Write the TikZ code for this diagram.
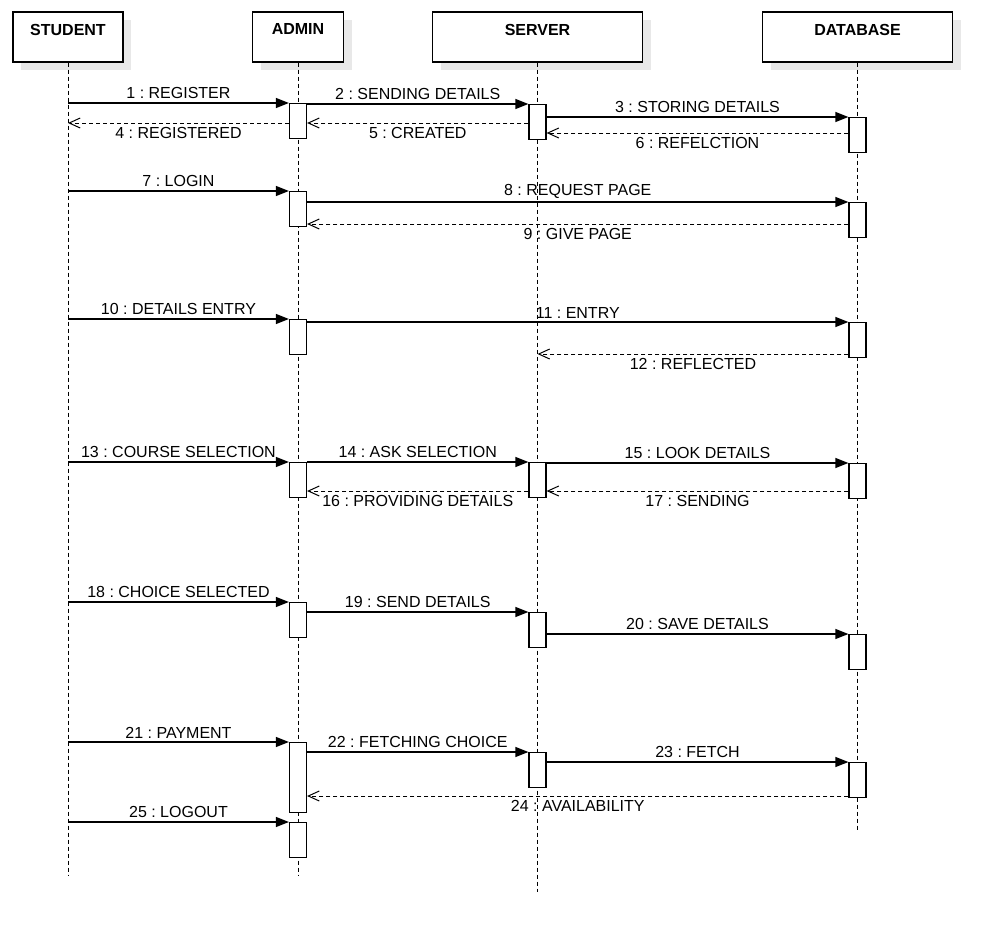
\documentclass[tikz,border=0pt]{standalone}
\usepackage{fontspec}
\setmainfont{Liberation Sans}
\usetikzlibrary{arrows.meta,shadows}
\frenchspacing

\begin{document}
\begin{tikzpicture}[x=1pt, y=-1pt,
    every node/.style={font=\fontsize{16}{19}\selectfont},
    head/.style={draw, fill=white, line width=1.2pt, minimum height=50pt, inner sep=0pt,
        drop shadow={shadow xshift=8pt, shadow yshift=-8pt, fill=black!9, opacity=1}},
    headtext/.style={anchor=north, yshift=-9pt, font=\fontsize{16}{19}\selectfont\bfseries},
    life/.style={line width=1pt, dash pattern=on 4pt off 3pt},
    bar/.style={draw, fill=white, line width=1.2pt, minimum width=17pt, minimum height=35pt,
        inner sep=0pt, anchor=north},
    msg/.style={line width=1.2pt, -{Triangle[length=13pt, width=10pt]}},
    ret/.style={line width=1pt, dash pattern=on 4pt off 3pt,
        -{Straight Barb[length=11pt, width=10pt, line width=1pt]}}]
    \useasboundingbox (0,0) rectangle (1003,942);
    \node[head, minimum width=110pt, label={[headtext]north:STUDENT}] (stu) at (68,37) {};
    \node[head, minimum width=91pt, label={[headtext]north:ADMIN}] (adm) at (298,37) {};
    \node[head, minimum width=210pt, label={[headtext]north:SERVER}] (srv) at (537.5,37) {};
    \node[head, minimum width=190pt, label={[headtext]north:DATABASE}] (dbs) at (857.5,37) {};
    \coordinate (stuE) at (68,875);
    \coordinate (admE) at (298,875);
    \coordinate (srvE) at (537.5,892);
    \coordinate (dbsE) at (857.5,832);
    \draw[life] (stu.south) -- (stuE);
    \draw[life] (adm.south) -- (admE);
    \draw[life] (srv.south) -- (srvE);
    \draw[life] (dbs.south) -- (dbsE);
    \node[bar] (a1) at (298,103) {};
    \node[bar] (a2) at (298,191) {};
    \node[bar] (a3) at (298,319) {};
    \node[bar] (a4) at (298,462) {};
    \node[bar] (a5) at (298,602) {};
    \node[bar, minimum height=70pt] (a6) at (298,742) {};
    \node[bar] (a7) at (298,822) {};
    \node[bar] (s1) at (537.5,104) {};
    \node[bar] (s2) at (537.5,462) {};
    \node[bar] (s3) at (537.5,612) {};
    \node[bar] (s4) at (537.5,752) {};
    \node[bar] (d1) at (857.5,117) {};
    \node[bar] (d2) at (857.5,202) {};
    \node[bar] (d3) at (857.5,322) {};
    \node[bar] (d4) at (857.5,463) {};
    \node[bar] (d5) at (857.5,634) {};
    \node[bar] (d6) at (857.5,762) {};
    \draw[msg] (stu |- a1.north) -- (a1.north west) node[midway, above] {1 : REGISTER};
    \draw[msg] (a1.east |- s1.north) -- (s1.north west) node[midway, above] {2 : SENDING DETAILS};
    \draw[msg] (s1.east |- d1.north) -- (d1.north west) node[midway, above] {3 : STORING DETAILS};
    \draw[ret] (a1.west |- 0,123) -- (stu |- 0,123) node[midway, below] {4 : REGISTERED};
    \draw[ret] (s1.west |- 0,123) -- (a1.east |- 0,123) node[midway, below] {5 : CREATED};
    \draw[ret] (d1.west |- 0,133) -- (s1.east |- 0,133) node[midway, below] {6 : REFELCTION};
    \draw[msg] (stu |- a2.north) -- (a2.north west) node[midway, above] {7 : LOGIN};
    \draw[msg] (a2.east |- d2.north) -- (d2.north west) node[midway, above] {8 : REQUEST PAGE};
    \draw[ret] (d2.west |- 0,224) -- (a2.east |- 0,224) node[midway, below] {9 : GIVE PAGE};
    \draw[msg] (stu |- a3.north) -- (a3.north west) node[midway, above] {10 : DETAILS ENTRY};
    \draw[msg] (a3.east |- d3.north) -- (d3.north west) node[midway, above] {11 : ENTRY};
    \draw[ret] (d3.west |- 0,354) -- (srv |- 0,354) node[midway, below] {12 : REFLECTED};
    \draw[msg] (stu |- a4.north) -- (a4.north west) node[midway, above] {13 : COURSE SELECTION};
    \draw[msg] (a4.east |- s2.north) -- (s2.north west) node[midway, above] {14 : ASK SELECTION};
    \draw[msg] (s2.east |- d4.north) -- (d4.north west) node[midway, above] {15 : LOOK DETAILS};
    \draw[ret] (s2.west |- 0,491) -- (a4.east |- 0,491) node[midway, below] {16 : PROVIDING DETAILS};
    \draw[ret] (d4.west |- 0,491) -- (s2.east |- 0,491) node[midway, below] {17 : SENDING};
    \draw[msg] (stu |- a5.north) -- (a5.north west) node[midway, above] {18 : CHOICE SELECTED};
    \draw[msg] (a5.east |- s3.north) -- (s3.north west) node[midway, above] {19 : SEND DETAILS};
    \draw[msg] (s3.east |- d5.north) -- (d5.north west) node[midway, above] {20 : SAVE DETAILS};
    \draw[msg] (stu |- a6.north) -- (a6.north west) node[midway, above] {21 : PAYMENT};
    \draw[msg] (a6.east |- s4.north) -- (s4.north west) node[midway, above] {22 : FETCHING CHOICE};
    \draw[msg] (s4.east |- d6.north) -- (d6.north west) node[midway, above] {23 : FETCH};
    \draw[ret] (d6.west |- 0,796) -- (a6.east |- 0,796) node[midway, below] {24 : AVAILABILITY};
    \draw[msg] (stu |- a7.north) -- (a7.north west) node[midway, above] {25 : LOGOUT};
\end{tikzpicture}
\end{document}
